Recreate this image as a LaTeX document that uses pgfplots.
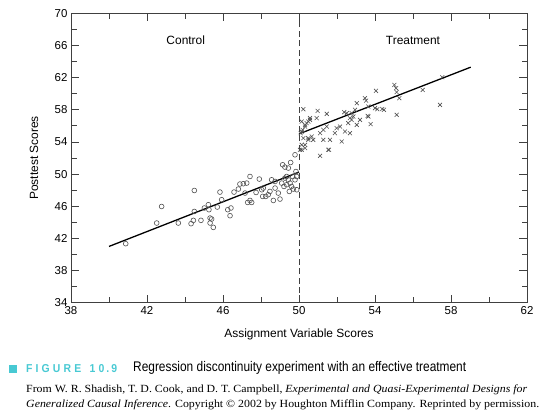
\documentclass[border=0pt]{standalone}
\usepackage{pgfplots}
\pgfplotsset{compat=1.18}
\usepackage{pgfplotstable}
\usepackage{graphicx}
\usepackage{fontspec}
\setmainfont{Liberation Sans}
\newfontfamily\timesfont{Liberation Serif}
\definecolor{figcyan}{HTML}{48C9D3}
\definecolor{ptgray}{HTML}{505050}
\definecolor{axgray}{HTML}{404040}

% control group (assignment score, posttest score)
\pgfplotstableread{
x y
40.88 41.34
42.51 43.91
42.77 45.97
43.65 43.91
44.49 47.96
44.49 45.35
44.32 43.83
44.44 44.24
44.84 44.24
45.02 45.78
45.23 46.19
45.26 45.57
45.32 44.53
45.40 44.41
45.32 43.91
45.49 43.37
45.70 45.90
45.84 47.76
45.93 46.81
46.25 45.57
46.42 45.78
46.37 44.82
46.58 47.76
46.81 48.14
46.89 48.76
47.07 48.80
47.25 48.88
47.42 49.70
47.16 47.64
47.30 46.47
47.42 46.72
47.51 46.47
47.74 47.71
47.91 49.38
48.04 48.05
48.12 48.26
48.09 47.22
48.25 47.22
48.38 47.43
48.47 47.84
48.56 49.29
48.65 46.72
48.74 49.08
48.74 48.26
49.00 46.89
48.91 47.64
49.14 51.16
49.26 50.87
49.44 50.75
49.56 51.44
49.79 52.40
49.84 50.32
49.26 49.50
49.35 49.70
49.44 49.29
49.53 48.88
49.61 48.46
49.70 48.14
49.49 47.84
49.79 49.29
49.88 49.70
49.09 48.88
49.21 48.46
49.67 49.70
49.88 48.05
49.35 48.67
}\control

% treatment group
\pgfplotstableread{
x y
50.23 58.07
50.98 57.86
51.46 57.49
52.38 57.70
53.04 58.82
53.47 59.44
53.53 59.14
54.05 60.35
55.02 61.09
55.11 60.68
55.14 60.19
55.28 59.44
56.51 60.47
57.54 62.05
57.42 58.61
55.14 57.37
54.47 57.99
54.12 58.07
53.61 57.24
53.77 56.21
53.21 56.74
52.86 57.16
52.68 56.96
52.59 56.34
52.68 55.09
52.25 54.05
51.98 55.71
51.89 55.09
51.63 54.26
51.58 53.02
51.28 54.26
51.11 52.27
51.28 55.50
51.46 55.91
51.11 55.09
50.93 56.96
50.58 56.74
50.40 56.34
50.32 55.91
50.67 54.67
50.49 54.26
50.32 53.64
50.14 53.02
50.14 56.53
50.23 54.47
50.75 54.26
50.09 55.09
50.19 55.50
52.42 55.29
52.16 55.91
53.04 56.12
52.51 57.58
52.95 57.99
52.77 57.58
53.65 58.40
50.58 56.96
50.49 56.53
50.32 56.12
50.14 55.29
50.49 54.47
50.05 53.02
51.54 53.02
52.77 56.74
53.65 57.16
54.00 58.20
54.38 58.10
50.32 53.23
50.14 53.64
}\treatment

\begin{document}
\begin{tikzpicture}
\path[use as bounding box] (-71bp,-109.3bp) rectangle (469bp,302.7bp);
\begin{axis}[
  at={(0,0)}, anchor=south west,
  scale only axis, width=456bp, height=289.4bp,
  xmin=38, xmax=62, ymin=34, ymax=70,
  xtick={38,42,...,62}, ytick={34,38,...,70},
  minor xtick={40,44,...,60}, minor ytick={36,40,...,68},
  major tick length=8bp, minor tick length=5.5bp,
  axis line style={draw=axgray, line width=0.8pt},
  every tick/.style={axgray, line width=0.8pt},
  tick label style={font=\fontsize{11.5}{13}\selectfont},
  /pgf/number format/assume math mode=true,
  xlabel={Assignment Variable Scores},
  ylabel={Posttest Scores},
  every axis x label/.style={at={(axis description cs:0.5,-0.108)}, anchor=center, font=\fontsize{12}{14}\selectfont},
  every axis y label/.style={at={(axis description cs:-0.081,0.5)}, rotate=90, anchor=center, font=\fontsize{12}{14}\selectfont},
  clip=false,
]
\addplot[axgray, line width=0.7pt, dash pattern=on 6bp off 3.5bp] coordinates {(50,34) (50,70)};
\addplot[only marks, mark=o, mark size=2.4bp, mark options={draw=ptgray, line width=0.6pt}] table[x=x, y=y] {\control};
\addplot[only marks, mark=x, mark size=2.8bp, mark options={draw=ptgray, line width=0.6pt}] table[x=x, y=y] {\treatment};
\addplot[black, line width=1.3pt] coordinates {(40,41.0) (50,50.25)};
\addplot[black, line width=1.3pt] coordinates {(50,55.0) (59.04,63.3)};
\node[font=\fontsize{12}{14}\selectfont] at (axis cs:44.04,66.65) {Control};
\node[font=\fontsize{12}{14}\selectfont] at (axis cs:56.0,66.6) {Treatment};
\end{axis}
% caption
\fill[figcyan] (-62bp,-70bp) rectangle (-54.3bp,-62.3bp);
\node[anchor=west, inner sep=0, text=figcyan] at (-45bp,-65.8bp)
  {\resizebox{91bp}{\height}{\fontsize{11.5}{13}\selectfont\bfseries F\hspace{0.3em}I\hspace{0.3em}G\hspace{0.3em}U\hspace{0.3em}R\hspace{0.3em}E\hspace{0.8em}1\hspace{0.3em}0\hspace{0.2em}.\hspace{0.2em}9}};
\node[anchor=west, inner sep=0] at (62bp,-65.3bp)
  {\resizebox{333bp}{\height}{\fontsize{14}{16}\selectfont Regression discontinuity experiment with an effective treatment}};
\node[anchor=west, inner sep=0] at (-45bp,-87.3bp)
  {\resizebox{501bp}{\height}{\timesfont\fontsize{11}{13}\selectfont From W. R. Shadish, T. D. Cook, and D. T. Campbell, \textit{Experimental and Quasi-Experimental Designs for}}};
\node[anchor=west, inner sep=0] at (-45bp,-102.3bp)
  {\resizebox{513bp}{\height}{\timesfont\fontsize{11}{13}\selectfont \textit{Generalized Causal Inference}. Copyright © 2002 by Houghton Mifflin Company. Reprinted by permission.}};
\end{tikzpicture}
\end{document}
